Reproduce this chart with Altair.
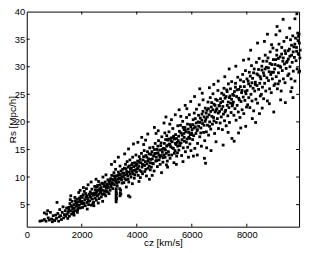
import altair as alt
import pandas as pd

# cz [km/s], Rs [Mpc/h], grouped by cz range
b0500 = [(480,2.0),(560,2.1),(640,2.3),(700,2.0),(720,3.3),(780,2.6),(820,2.2),(860,3.6),(900,2.4),(930,1.9),(960,3.0),(990,2.2),(640,3.5),(760,3.9)]
b1000 = [(1020,2.1),(1050,3.1),(1080,2.5),(1100,5.4),(1130,3.4),(1160,2.0),(1180,2.8),(1200,4.1),(1230,3.0),(1260,2.3),(1290,3.6),(1320,4.6),(1340,2.6),(1370,3.2),(1400,3.9),(1420,2.9),(1450,4.4),(1470,3.3),(1490,2.5)]
b1500 = [(1510,3.6),(1530,4.5),(1550,2.9),(1570,5.2),(1590,3.9),(1610,4.8),(1630,3.3),(1650,5.6),(1670,4.2),(1690,3.7),(1710,5.0),(1730,4.4),(1750,6.3),(1770,3.9),(1790,5.3),(1810,4.7),(1830,6.0),(1850,4.1),(1870,5.5),(1890,7.2),(1910,4.9),(1930,5.8),(1950,4.4),(1970,6.5),(1990,5.2),(1600,6.6),(1720,3.1),(1840,3.6),(1940,7.6)]
b2000 = [(2010,5.6),(2030,4.5),(2050,6.8),(2070,5.1),(2090,7.4),(2110,5.9),(2130,4.8),(2150,6.4),(2170,7.9),(2190,5.4),(2210,6.1),(2230,8.6),(2250,5.0),(2270,6.9),(2290,5.7),(2310,7.3),(2330,6.3),(2350,4.9),(2370,7.8),(2390,6.0),(2410,6.7),(2430,5.4),(2450,7.1),(2470,8.3),(2490,6.2),(2060,8.1),(2200,4.2),(2340,9.1),(2440,4.8)]
b2500 = [(2510,7.0),(2530,5.8),(2550,8.2),(2570,6.6),(2590,7.6),(2610,9.2),(2630,6.1),(2650,7.9),(2670,8.6),(2690,7.2),(2710,6.4),(2730,8.9),(2750,7.6),(2770,10.0),(2790,6.9),(2810,8.3),(2830,7.5),(2850,9.1),(2870,6.6),(2890,8.0),(2910,8.7),(2930,7.3),(2950,9.5),(2970,8.1),(2990,7.0),(2600,5.3),(2760,5.6),(2880,10.4),(2520,9.6)]
b3000 = [(3010,8.8),(3030,7.6),(3050,9.7),(3070,8.2),(3090,10.3),(3110,9.0),(3130,7.9),(3150,9.5),(3170,10.8),(3190,8.6),(3210,9.9),(3230,11.4),(3250,9.2),(3270,10.2),(3290,8.4),(3310,9.6),(3330,10.9),(3350,9.1),(3370,10.5),(3390,12.0),(3410,9.7),(3430,11.1),(3450,10.0),(3470,8.9),(3490,10.7),(3080,12.3),(3200,12.8),(3330,13.6),
         (3250,5.5),(3250,5.9),(3250,6.3),(3250,6.7),(3250,7.1),(3250,7.5),(3250,7.9),(3260,6.1),(3260,7.0),(3390,6.6),(3400,7.1),(3410,7.6),(3380,7.9),(3420,6.9)]
b3500 = [(3510,10.1),(3530,9.0),(3550,11.6),(3570,10.4),(3590,12.3),(3610,9.5),(3630,11.0),(3650,12.8),(3670,10.2),(3690,11.8),(3710,9.1),(3730,10.9),(3750,13.1),(3770,11.4),(3790,10.0),(3810,12.2),(3830,11.0),(3850,13.6),(3870,10.6),(3890,11.9),(3910,9.8),(3930,12.6),(3950,11.3),(3970,14.0),(3990,10.9),(3560,14.2),(3700,15.1),(3880,16.0),(3620,8.2),(3840,8.8),(3700,6.6),(3750,6.4)]
b4000 = [(4010,11.5),(4030,12.9),(4050,10.3),(4070,12.0),(4090,13.7),(4110,11.2),(4130,9.9),(4150,12.6),(4170,14.3),(4190,11.8),(4210,10.6),(4230,13.1),(4250,12.2),(4270,14.8),(4290,11.0),(4310,12.8),(4330,13.9),(4350,10.2),(4370,12.4),(4390,14.6),(4410,11.6),(4430,13.3),(4450,12.0),(4470,15.3),(4490,11.3),(4040,16.3),(4180,17.2),(4320,16.7),(4460,9.6),(4080,9.2),(4250,15.9),(4400,17.8)]
b4500 = [(4510,13.2),(4530,11.8),(4550,14.6),(4570,12.5),(4590,15.4),(4610,13.8),(4630,11.1),(4650,14.2),(4670,16.1),(4690,12.9),(4710,13.6),(4730,15.0),(4750,11.9),(4770,14.4),(4790,16.6),(4810,13.1),(4830,14.9),(4850,12.3),(4870,15.7),(4890,13.9),(4910,17.3),(4930,14.5),(4950,12.7),(4970,15.2),(4990,14.0),(4640,19.0),(4780,18.4),(4900,10.8),(4560,10.3),(4990,19.8),(4700,17.9)]
b5000 = [(5010,15.1),(5030,13.6),(5050,16.8),(5070,14.3),(5090,17.5),(5110,12.9),(5130,15.8),(5150,14.6),(5170,18.2),(5190,16.0),(5210,13.4),(5230,15.5),(5250,17.1),(5270,14.0),(5290,16.4),(5310,18.8),(5330,15.2),(5350,12.6),(5370,16.9),(5390,14.8),(5410,17.7),(5430,15.9),(5450,13.8),(5470,16.3),(5490,19.3),(5020,18.0),(5120,11.8),(5260,20.4),(5400,21.3),(5440,12.3),(5060,20.9),(5200,19.6),(5480,14.4),(5340,17.4),(5160,16.9),(5080,12.2)]
b5500 = [(5510,16.6),(5530,14.9),(5550,18.3),(5570,15.7),(5590,19.4),(5610,16.2),(5630,13.9),(5650,17.6),(5670,20.1),(5690,15.3),(5710,17.9),(5730,16.5),(5750,19.0),(5770,14.6),(5790,18.2),(5810,20.8),(5830,16.9),(5850,15.4),(5870,18.7),(5890,17.2),(5910,21.3),(5930,16.0),(5950,19.5),(5970,14.8),(5990,18.0),(5540,22.2),(5680,12.8),(5760,23.0),(5880,13.6),(5960,23.7),(5600,21.0),(5820,22.4),(5720,18.6),(5940,17.7)]
b6000 = [(6010,18.6),(6030,16.8),(6050,20.4),(6070,17.5),(6090,21.6),(6110,15.2),(6130,19.1),(6150,17.9),(6170,22.3),(6190,18.4),(6210,16.1),(6230,20.0),(6250,19.2),(6270,23.1),(6290,17.3),(6310,20.7),(6330,18.9),(6350,15.6),(6370,21.4),(6390,19.7),(6410,24.0),(6430,18.1),(6450,20.9),(6470,16.6),(6490,22.5),(6290,26.0),(6100,24.6),(6500,12.5),(6460,13.4),(6200,14.0),(6380,25.2),(6060,13.8)]
b6500 = [(6510,20.5),(6530,18.2),(6550,22.1),(6570,19.4),(6590,23.6),(6610,17.6),(6630,21.3),(6650,20.0),(6670,24.4),(6690,18.7),(6710,22.7),(6730,21.0),(6750,19.6),(6770,25.1),(6790,20.8),(6810,23.2),(6830,17.9),(6850,21.8),(6870,24.1),(6890,19.9),(6910,22.4),(6930,20.6),(6950,25.7),(6970,18.8),(6990,23.0),(6640,26.2),(6960,27.4),(6800,26.8),(6540,15.3),(6880,16.4),(6700,14.8)]
b7000 = [(7010,21.9),(7030,19.8),(7050,23.5),(7070,20.9),(7090,25.2),(7110,18.6),(7130,22.8),(7150,21.4),(7170,26.1),(7190,20.2),(7210,24.3),(7230,22.1),(7250,19.3),(7270,25.8),(7290,23.0),(7310,21.1),(7330,26.9),(7350,22.6),(7370,19.9),(7390,24.7),(7410,23.4),(7430,21.7),(7450,27.3),(7470,22.9),(7490,25.0),(7140,15.8),(7360,29.6),(7200,28.2),(7460,17.0),(7320,18.1)]
b7500 = [(7510,23.6),(7530,21.2),(7550,25.5),(7570,22.4),(7590,27.0),(7610,20.3),(7630,24.6),(7650,23.0),(7670,28.1),(7690,21.8),(7710,25.9),(7730,24.0),(7750,20.8),(7770,27.6),(7790,23.7),(7810,25.3),(7830,22.2),(7850,28.6),(7870,24.5),(7890,21.5),(7910,26.4),(7930,23.9),(7950,29.3),(7970,25.1),(7990,22.7),(7540,16.5),(7700,18.0),(7880,31.2),(7600,30.1),(7960,19.2),(7780,18.9)]
b8000 = [(8010,25.7),(8030,23.1),(8050,27.4),(8070,24.4),(8090,29.0),(8110,22.6),(8130,26.5),(8150,25.0),(8170,30.2),(8190,23.8),(8210,27.9),(8230,26.1),(8250,22.0),(8270,29.6),(8290,25.6),(8310,27.2),(8330,24.1),(8350,30.8),(8370,26.6),(8390,23.4),(8410,28.5),(8430,25.9),(8450,31.5),(8470,27.0),(8490,24.7),(8070,31.4),(8390,34.3),(8320,19.9),(8200,20.6),(8460,21.5),(8140,33.0)]
b8500 = [(8510,27.8),(8530,25.0),(8550,29.4),(8570,26.3),(8590,31.0),(8610,24.2),(8630,28.4),(8650,27.0),(8670,32.1),(8690,25.6),(8710,29.9),(8730,28.0),(8750,23.8),(8770,31.6),(8790,27.5),(8810,29.1),(8830,26.0),(8850,32.7),(8870,28.6),(8890,25.3),(8910,30.4),(8930,27.8),(8950,33.4),(8970,29.0),(8990,26.6),(8750,35.9),(8640,34.6),(8900,34.0),(8560,22.5),(8820,23.3),(8980,21.8)]
b9000 = [(9010,29.6),(9030,26.9),(9050,31.3),(9070,28.2),(9090,33.0),(9110,26.0),(9130,30.2),(9150,28.9),(9170,34.1),(9190,27.4),(9210,31.8),(9230,29.9),(9250,25.6),(9270,33.5),(9290,29.3),(9310,31.0),(9330,27.8),(9350,34.6),(9370,30.5),(9390,27.1),(9410,32.4),(9430,29.7),(9450,35.3),(9470,31.0),(9490,28.4),(9100,37.3),(9320,38.6),(9140,26.9),(9230,24.0),(9400,23.5),(9060,35.8),(9200,36.5)]
b9500 = [(9510,31.4),(9530,28.7),(9550,33.2),(9570,30.0),(9590,34.9),(9610,27.8),(9630,32.1),(9650,30.8),(9670,35.6),(9690,29.2),(9710,33.6),(9730,31.7),(9750,27.4),(9770,35.2),(9790,31.1),(9810,32.8),(9830,29.6),(9850,36.1),(9870,32.4),(9890,29.0),(9910,34.3),(9930,31.6),(9750,38.7),(9820,39.6),(9640,26.2),(9680,24.4),(9900,35.9),(9920,29.2),(9560,37.0),(9880,35.5),(9940,33.0),(9600,25.5)]

# extra points along the dense core of the band
c2000 = [(1525,4.1),(1583,5.9),(1642,4.6),(1707,3.5),(1768,5.7),(1822,5.0),(1884,4.4),(1917,6.2),(1963,5.5),(2022,6.3),(2081,5.3),(2143,7.0),(2186,6.6),(2238,5.6),(2296,6.5),(2357,7.0),(2404,5.2),(2468,6.8),(2497,7.7)]
c3000 = [(2538,7.3),(2577,8.5),(2624,6.9),(2668,7.4),(2703,8.1),(2745,6.9),(2788,8.8),(2826,7.0),(2861,8.4),(2903,7.5),(2947,8.4),(2988,9.2),(3024,9.3),(3066,8.6),(3103,9.6),(3144,8.8),(3183,10.2),(3222,9.4),(3277,8.9),(3318,10.3),(3356,9.8),(3402,10.4),(3447,9.5),(3486,11.4)]
c4000 = [(3522,10.7),(3566,9.7),(3604,11.5),(3641,10.6),(3684,9.6),(3722,12.0),(3766,10.5),(3803,11.6),(3844,12.5),(3886,11.2),(3927,10.4),(3964,12.1),(4004,12.4),(4046,11.6),(4088,12.7),(4124,13.2),(4166,11.0),(4204,12.3),(4245,13.7),(4286,12.1),(4327,11.4),(4366,13.6),(4404,12.9),(4447,14.2),(4486,12.6)]
c5000 = [(4521,14.1),(4566,13.3),(4604,12.4),(4643,15.0),(4684,14.3),(4722,13.0),(4765,15.6),(4803,14.0),(4844,13.6),(4884,16.2),(4925,15.0),(4962,13.5),(5004,16.1),(5044,14.9),(5086,15.6),(5124,16.7),(5166,14.0),(5205,15.9),(5244,16.6),(5285,15.3),(5326,17.2),(5366,14.3),(5405,16.1),(5446,17.0),(5485,15.6)]
c6000 = [(5522,17.4),(5564,16.1),(5605,18.0),(5644,16.8),(5686,19.0),(5724,17.2),(5766,18.5),(5804,16.3),(5845,19.6),(5884,18.1),(5926,17.0),(5966,19.1),(6005,17.7),(6044,19.5),(6085,18.9),(6126,20.6),(6165,19.8),(6204,18.6),(6246,21.2),(6284,19.9),(6326,18.0),(6364,20.3),(6406,21.9),(6446,19.4),(6486,20.1)]
c7000 = [(6522,21.6),(6565,20.9),(6604,22.4),(6644,19.2),(6686,21.9),(6724,23.5),(6765,22.2),(6806,20.2),(6846,23.0),(6884,22.1),(6925,23.9),(6966,21.6),(7006,22.9),(7045,24.2),(7086,22.3),(7125,23.7),(7164,24.9),(7206,21.8),(7245,24.6),(7286,25.5),(7325,23.6),(7365,24.4),(7406,26.0),(7446,24.1),(7486,23.2)]
c8500 = [(7525,24.8),(7586,26.3),(7645,25.8),(7706,24.3),(7766,26.4),(7826,25.7),(7886,27.3),(7946,25.5),(8006,27.8),(8066,26.9),(8126,28.3),(8186,27.1),(8246,28.9),(8306,26.8),(8366,28.7),(8426,29.5),(8486,28.2),(8546,30.1),(8606,28.9),(8666,29.6),(8726,31.0),(8786,29.8),(8846,30.6),(8906,29.0),(8966,31.3),(9026,30.4),(9086,32.1),(9146,31.5),(9206,30.1),(9266,32.3),(9326,31.6),(9386,32.9),(9446,30.8),(9506,32.9),(9566,31.9),(9626,33.9),(9686,32.7),(9746,34.1),(9806,33.5),(9866,34.7),(9896,32.2)]

x_ticks = [0, 2000, 4000, 6000, 8000]
y_ticks = [5, 10, 15, 20, 25, 30, 35, 40]
x_domain = [0, 9900]
y_domain = [1, 40]

bins = [b0500, b1000, b1500, b2000, b2500, b3000, b3500, b4000, b4500,
        b5000, b5500, b6000, b6500, b7000, b7500, b8000, b8500, b9000, b9500,
        c2000, c3000, c4000, c5000, c6000, c7000, c8500]
pts = pd.DataFrame([p for b in bins for p in b], columns=["cz", "rs"])

W, H = 276, 218
FONT = "Liberation Sans"
XT = "cz [km/s]"
YT = "Rs [Mpc/h]"

xs = alt.Scale(domain=x_domain, nice=False, zero=False)
ys = alt.Scale(domain=y_domain, nice=False, zero=False)

common = dict(ticks=False, grid=False, domain=False, format="d",
              labelOverlap=False, labelFlush=False, labelBound=False,
              labelFontSize=9.5, labelFont=FONT, labelColor="black",
              titleFont=FONT, titleFontSize=10, titleFontWeight="normal", titleColor="black",
              titleBaseline="alphabetic")
x_axis = alt.Axis(values=x_ticks, labelPadding=3, titleY=19, **common)
y_axis = alt.Axis(values=y_ticks, labelPadding=2, titleX=-11.5, titleY=109, **common)

points = alt.Chart(pts).mark_square(size=8, color="black", opacity=1, strokeWidth=0).encode(
    x=alt.X("cz:Q", scale=xs, title=XT, axis=x_axis),
    y=alt.Y("rs:Q", scale=ys, title=YT, axis=y_axis),
)

xt_df = pd.DataFrame({"cz": x_ticks[1:]})
yt_df = pd.DataFrame({"rs": y_ticks[:-1]})

xt_bottom = alt.Chart(xt_df).mark_rule(color="black", strokeWidth=1).encode(
    x=alt.X("cz:Q", scale=xs, title=XT, axis=x_axis), y=alt.value(H), y2=alt.value(H - 3))
xt_top = alt.Chart(xt_df).mark_rule(color="black", strokeWidth=1).encode(
    x=alt.X("cz:Q", scale=xs, title=XT, axis=x_axis), y=alt.value(0), y2=alt.value(3))
yt_left = alt.Chart(yt_df).mark_rule(color="black", strokeWidth=1).encode(
    y=alt.Y("rs:Q", scale=ys, title=YT, axis=y_axis), x=alt.value(0), x2=alt.value(3))
yt_right = alt.Chart(yt_df).mark_rule(color="black", strokeWidth=1).encode(
    y=alt.Y("rs:Q", scale=ys, title=YT, axis=y_axis), x=alt.value(W), x2=alt.value(W - 3))

chart = alt.layer(points, xt_bottom, xt_top, yt_left, yt_right).properties(
    width=W, height=H,
    autosize=alt.AutoSizeParams(type="none"),
    padding={"left": 19, "top": 2, "right": 5, "bottom": 24},
    background="white",
).configure_view(stroke="black", strokeWidth=1)

chart.save("out.html", embed_options={"renderer": "svg", "actions": False})
